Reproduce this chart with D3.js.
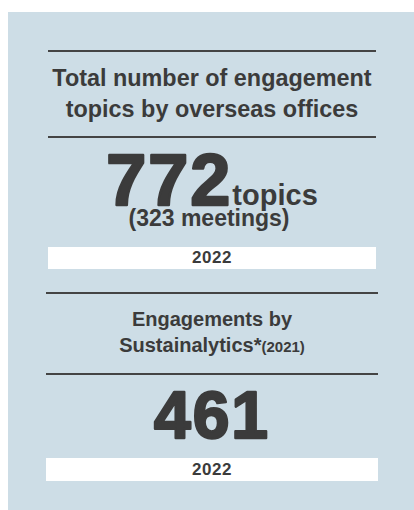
<!DOCTYPE html>
<html>
<head>
<meta charset="utf-8">
<script src="https://cdn.jsdelivr.net/npm/d3@7"></script>
<style>
  body { margin: 0; background: #ffffff; }
  svg text { font-family: "Liberation Sans", Arial, sans-serif; font-weight: bold; fill: #3b3b3b; }
</style>
</head>
<body>
<div id="chart"></div>
<script>
// data
const titleLines = [["Total number of engagement", "topics by overseas offices"], ["Engagements by", "Sustainalytics*"]];
const titleNotes = ["", "(2021)"];
const values = [772, 461];
const units = ["topics", ""];
const meetings = [323, null];
const years = ["2022", "2022"];

const width = 414, height = 510;
const ink = "#3b3b3b";

// layout of each block (positions only)
const layout = [
  { x0: 48, x1: 376, ruleTop: 51, t1: 86, t2: 117, ruleBot: 137, num: 205, numSize: 72, sub: 226, boxY: 247, boxH: 22, yearY: 263 },
  { x0: 46, x1: 378, ruleTop: 293, t1: 326, t2: 352, ruleBot: 374, num: 438, numSize: 66, sub: null, boxY: 458, boxH: 23, yearY: 475 }
];

const svg = d3.select("#chart").append("svg")
    .attr("width", width)
    .attr("height", height);

svg.append("rect")
    .attr("x", 8).attr("y", 12)
    .attr("width", width - 8).attr("height", height - 12)
    .attr("fill", "#cddde6");

const blocks = svg.selectAll("g.block")
  .data(values.map((v, i) => ({ v, i, L: layout[i] })))
  .enter().append("g")
    .attr("class", "block");

blocks.each(function(d) {
  const g = d3.select(this), L = d.L, cx = (L.x0 + L.x1) / 2;

  // rules above and below the title
  [L.ruleTop, L.ruleBot].forEach(y => {
    g.append("line")
      .attr("x1", L.x0).attr("x2", L.x1)
      .attr("y1", y).attr("y2", y)
      .attr("stroke", "#444").attr("stroke-width", 2);
  });

  // title
  g.append("text").attr("x", cx).attr("y", L.t1)
    .attr("text-anchor", "middle")
    .style("font-size", d.i == 0 ? "23.4px" : "20px")
    .text(titleLines[d.i][0]);
  const t2 = g.append("text").attr("x", cx).attr("y", L.t2)
    .attr("text-anchor", "middle")
    .style("font-size", d.i == 0 ? "23.4px" : "20px");
  t2.append("tspan").text(titleLines[d.i][1]);
  if (titleNotes[d.i]) t2.append("tspan").style("font-size", "15px").text(titleNotes[d.i]);

  // big number with unit (stroked to get the heavy weight)
  const n = g.append("text").attr("x", cx).attr("y", L.num)
    .attr("text-anchor", "middle");
  n.append("tspan")
    .style("font-size", L.numSize + "px")
    .style("letter-spacing", "2px")
    .style("stroke", ink).style("stroke-width", "2.4px")
    .style("stroke-linejoin", "round")
    .text(d.v);
  if (units[d.i]) n.append("tspan").style("font-size", "29px").text(units[d.i]);

  if (meetings[d.i] != null) {
    g.append("text").attr("x", cx - 3).attr("y", L.sub)
      .attr("text-anchor", "middle")
      .style("font-size", "23px")
      .text("(" + meetings[d.i] + " meetings)");
  }

  // year band
  g.append("rect")
    .attr("x", L.x0).attr("y", L.boxY)
    .attr("width", L.x1 - L.x0).attr("height", L.boxH)
    .attr("fill", "#ffffff");
  g.append("text").attr("x", cx).attr("y", L.yearY)
    .attr("text-anchor", "middle")
    .style("font-size", "17px")
    .style("letter-spacing", "0.5px")
    .text(years[d.i]);
});
</script>
</body>
</html>
